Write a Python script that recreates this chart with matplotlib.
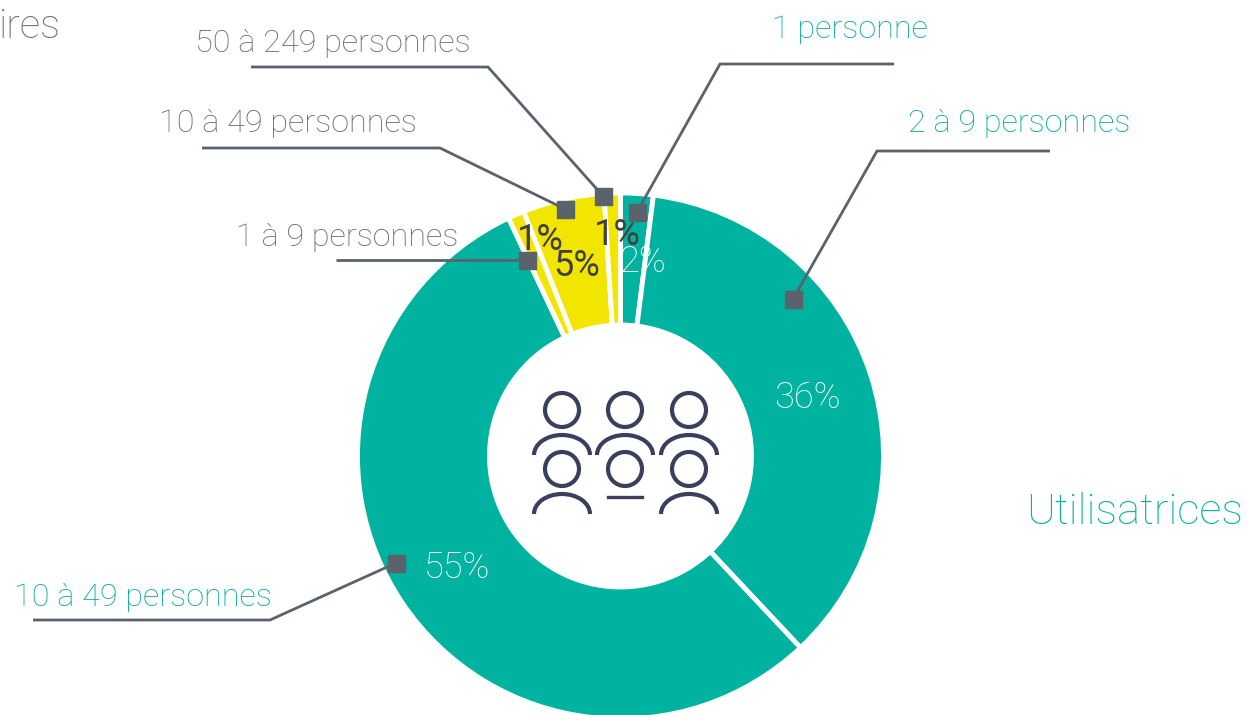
import matplotlib
matplotlib.use("Agg")
import matplotlib.pyplot as plt
from matplotlib.patches import Circle, Arc, Rectangle

# valeurs du donut, sens horaire depuis le haut
valeurs = [2, 36, 55, 1, 5, 1]
etiquettes = ["1 personne", "2 à 9 personnes", "10 à 49 personnes",
              "1 à 9 personnes", "10 à 49 personnes", "50 à 249 personnes"]
pourcents = ["2%", "36%", "55%", "1%", "5%", "1%"]

VERT = "#00B3A1"
JAUNE = "#F2E500"
GRIS = "#5A636B"
GRIS_TXT = "#666666"
couleurs = [VERT, VERT, VERT, JAUNE, JAUNE, JAUNE]
coul_txt = ["#00A898", "#00A898", "#00A898", GRIS_TXT, GRIS_TXT, GRIS_TXT]
coul_pct = ["white", "white", "white", "#404040", "#404040", "#404040"]
poids_pct = ["light", "light", "light", "normal", "normal", "normal"]

plt.rcParams['font.family'] = ['Roboto', 'DejaVu Sans']
H = 715

fig = plt.figure(figsize=(12.47, 7.15), dpi=100)
ax = fig.add_axes([0, 0, 1, 1])

def Y(y):
    return H - y

ax.pie(valeurs, colors=couleurs, startangle=90, counterclock=False,
       center=(620.5, Y(456)), radius=263,
       wedgeprops=dict(width=132, edgecolor="white", linewidth=3.5))
ax.set_xlim(0, 1247)
ax.set_ylim(0, H)
ax.set_aspect("equal")
ax.axis("off")

# lignes de rappel : (x, y) du carré, coude, fin
rappels = [
    [(637, 212), (720, 64), (894, 64)],
    [(793, 299), (877, 151), (1050, 151)],
    [(396, 563), (270, 620), (33, 620)],
    [(527, 260), (336, 260)],
    [(565, 209), (440, 148), (202, 148)],
    [(603, 196), (488, 67), (251, 67)],
]
pos_txt = [(850, 30), (1019, 124), (143, 597), (347, 238), (288, 124), (333, 43)]
pos_pct = [(643, 262), (807, 398), (457, 568), (617, 235), (577, 266), (540, 240)]
ordre_pct = [0, 1, 2, 5, 4, 3]

for i in range(len(valeurs)):
    r = rappels[i]
    ax.plot([p[0] for p in r], [Y(p[1]) for p in r], color=GRIS, lw=2, zorder=4,
            solid_capstyle="butt")
    x0, y0 = r[0]
    ax.add_patch(Rectangle((x0 - 8.5, Y(y0) - 8.5), 17, 17, color=GRIS, zorder=6))
    ax.text(pos_txt[i][0], Y(pos_txt[i][1]), etiquettes[i], color=coul_txt[i],
            fontsize=23.3, fontweight="light", ha="center", va="center", zorder=7)
    k = ordre_pct[i]
    ax.text(pos_pct[i][0], Y(pos_pct[i][1]), pourcents[k], color=coul_pct[k],
            fontsize=26, fontweight=poids_pct[k], ha="center", va="center", zorder=5)

ax.text(1135, Y(512), "Utilisatrices", color=VERT, fontsize=31.3, fontweight="light",
        ha="center", va="center")
ax.text(61, Y(27), "ires", color="#6E6E6E", fontsize=29, fontweight="light",
        ha="right", va="center")

# pictogramme : six personnes
ENCRE = "#3A3F5C"
tetes = [(562, 410), (625, 410), (689, 410), (562, 469), (625, 469), (689, 469)]
epaules = [455, 455, 455, 514, None, 514]
for cx, cy, base in zip([t[0] for t in tetes], [t[1] for t in tetes], epaules):
    ax.add_patch(Circle((cx, Y(cy)), 17, fill=False, ec=ENCRE, lw=3, zorder=3))
    if base is None:
        ax.plot([cx - 17, cx + 17], [Y(497), Y(497)], color=ENCRE, lw=2.4, zorder=3)
    else:
        ax.add_patch(Arc((cx, Y(base)), 56, 40, theta1=0, theta2=180,
                         ec=ENCRE, lw=3, zorder=3))

fig.savefig("out.png", dpi=100)
